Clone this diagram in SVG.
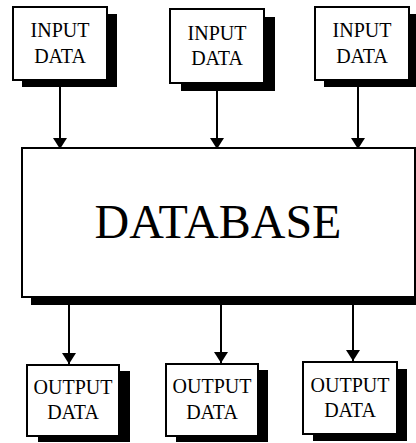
<svg xmlns="http://www.w3.org/2000/svg" width="416" height="443" viewBox="0 0 416 443">
  <defs>
    <marker id="arrow" markerUnits="userSpaceOnUse" markerWidth="12" markerHeight="15" refX="11" refY="7" orient="auto" overflow="visible">
      <path d="M0,0 L11,7 L0,14 Z" fill="#000"/>
    </marker>
  </defs>
  <style>
    .shadow { fill: #000; }
    .box { fill: #fff; stroke: #000; stroke-width: 2; }
    .small { font-family: "Liberation Serif", "Times New Roman", serif; font-size: 20px; fill: #000; text-anchor: middle; }
    .big { font-family: "Liberation Serif", "Times New Roman", serif; font-size: 48px; fill: #000; text-anchor: middle; }
    .link { stroke: #000; stroke-width: 2; fill: none; marker-end: url(#arrow); }
  </style>
  <rect width="416" height="443" fill="#fff"/>

  <!-- input nodes -->
  <g id="input1">
    <rect class="shadow" x="22" y="14" width="95" height="73"/>
    <rect class="box" x="13" y="7" width="94" height="73"/>
    <text class="small" x="60" y="37">INPUT</text>
    <text class="small" x="60" y="63">DATA</text>
  </g>
  <g id="input2">
    <rect class="shadow" x="181" y="17" width="94" height="74"/>
    <rect class="box" x="170" y="9" width="94" height="74"/>
    <text class="small" x="217" y="40">INPUT</text>
    <text class="small" x="217" y="65">DATA</text>
  </g>
  <g id="input3">
    <rect class="shadow" x="324" y="14" width="95" height="73"/>
    <rect class="box" x="315" y="7" width="94" height="73"/>
    <text class="small" x="362" y="37">INPUT</text>
    <text class="small" x="362" y="63">DATA</text>
  </g>

  <!-- central store -->
  <g id="database">
    <rect class="shadow" x="31" y="156" width="400" height="149"/>
    <rect class="box" x="22" y="148" width="393" height="149"/>
    <text class="big" x="218" y="238">DATABASE</text>
  </g>

  <!-- output nodes -->
  <g id="output1">
    <rect class="shadow" x="38" y="371" width="92" height="71"/>
    <rect class="box" x="27" y="365" width="92" height="71"/>
    <text class="small" x="73" y="394">OUTPUT</text>
    <text class="small" x="73" y="419">DATA</text>
  </g>
  <g id="output2">
    <rect class="shadow" x="176" y="370" width="92" height="72"/>
    <rect class="box" x="166" y="364" width="92" height="72"/>
    <text class="small" x="212" y="393">OUTPUT</text>
    <text class="small" x="212" y="419">DATA</text>
  </g>
  <g id="output3">
    <rect class="shadow" x="313" y="369" width="94" height="72"/>
    <rect class="box" x="303" y="362" width="94" height="72"/>
    <text class="small" x="350" y="392">OUTPUT</text>
    <text class="small" x="350" y="417">DATA</text>
  </g>

  <!-- connectors -->
  <g id="connectors">
    <line class="link" x1="60" y1="87" x2="60" y2="149"/>
    <line class="link" x1="217" y1="91" x2="217" y2="149"/>
    <line class="link" x1="358" y1="87" x2="358" y2="149"/>
    <line class="link" x1="69" y1="305" x2="69" y2="364"/>
    <line class="link" x1="221" y1="305" x2="221" y2="363"/>
    <line class="link" x1="353" y1="305" x2="353" y2="361"/>
  </g>
</svg>
